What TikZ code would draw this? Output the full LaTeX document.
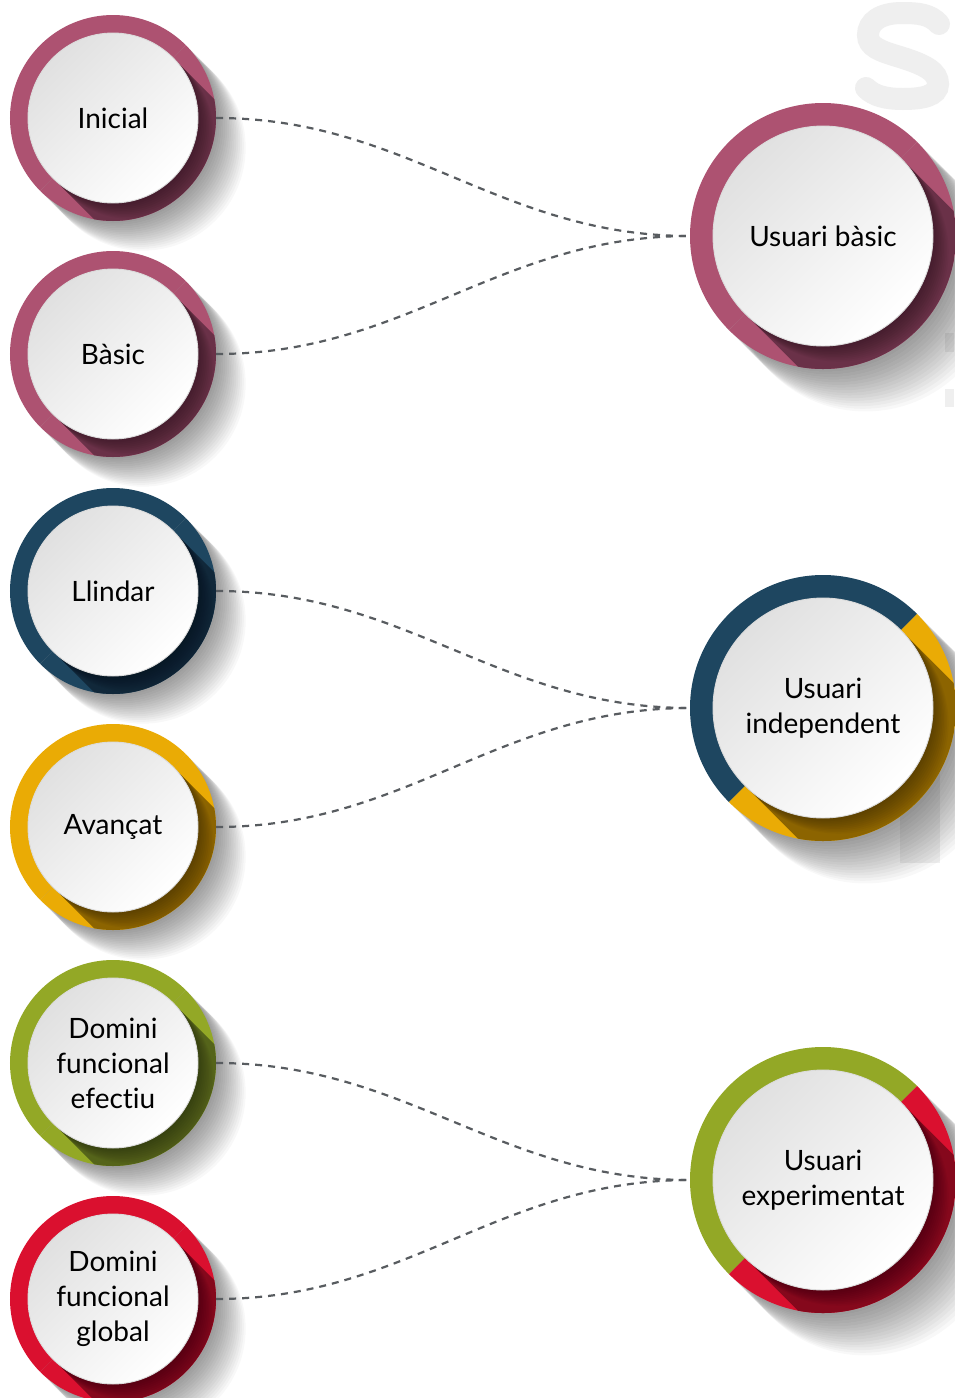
\documentclass[tikz,border=0pt]{standalone}
\usepackage{fontspec}
\setmainfont{Lato}[Ligatures={NoCommon,NoRare}]
\usetikzlibrary{calc}
\definecolor{maroon}{HTML}{AD5271}
\definecolor{maroondk}{HTML}{6A3148}
\definecolor{navy}{HTML}{1E4660}
\definecolor{navydk}{HTML}{11283A}
\definecolor{gold}{HTML}{EAAB05}
\definecolor{golddk}{HTML}{8C6400}
\definecolor{olive}{HTML}{93A826}
\definecolor{olivedk}{HTML}{55641A}
\definecolor{crimson}{HTML}{DA102F}
\definecolor{crimsondk}{HTML}{85081C}
\definecolor{connc}{HTML}{585C60}
\definecolor{bgletter}{HTML}{EFEFEF}
% soft long shadow of the outer circle: #1 x, #2 y, #3 R, #4 length
\newcommand{\bubbleshadow}[4]{%
  \foreach \k in {1,...,16}{%
    \pgfmathsetmacro\dd{\k*#4/16}%
    \fill[black,opacity=0.026] ($(#1,#2)+(-45:\dd pt)$) circle[radius=#3pt];
  }%
}
% #1 name, #2 x, #3 y, #4 R, #5 r, #6 colour A, #7 colour B, #8 dark, #9 text
\newcommand{\bubble}[9]{%
  \pgfmathsetmacro\dia{2*#5}%
  \fill[#6] (#2,#3) -- ++(45:#4pt) arc[start angle=45,end angle=225,radius=#4pt] -- cycle;
  \fill[#7] (#2,#3) -- ++(225:#4pt) arc[start angle=225,end angle=405,radius=#4pt] -- cycle;
  \begin{scope}
    \clip (#2,#3) circle[radius=#4pt];
    \fill[#8] ($(#2,#3)+(45:#5pt)$) -- ++(-45:300pt) -- ++(225:\dia pt) -- ++(135:300pt) -- cycle;
    \foreach \k in {1,...,10}{%
      \pgfmathsetmacro\dd{\k*2.2}%
      \fill[black,opacity=0.035] ($(#2,#3)+(-45:\dd pt)$) circle[radius=#5pt];
    }%
  \end{scope}
  \shade[top color=gray!24, bottom color=white, shading angle=45, draw=gray!28, line width=0.9pt] (#2,#3) circle[radius=#5pt];
  \node[bubbletext, minimum size=2*#4pt] (#1) at (#2,#3) {#9};
}
\begin{document}
\begin{tikzpicture}[x=1pt,y=1pt,
  bubbletext/.style={circle, inner sep=0pt, align=center, text=black,
    font=\fontsize{28}{35}\selectfont},
  conn/.style={draw=connc, line width=2.2pt, dash pattern=on 7pt off 6pt},
  bgbar/.style={fill=bgletter}]
\useasboundingbox (0,0) rectangle (954,-1398);
\fill[white] (0,0) rectangle (954,-1398);
% faint background letter shapes
\draw[bgletter, line width=22pt, line cap=round]
  (939,-24) .. controls (930,-14) and (918,-13) .. (902,-13)
  .. controls (880,-13) and (868,-22) .. (868,-35)
  .. controls (868,-47) and (880,-51) .. (900,-57)
  .. controls (926,-65) and (938,-72) .. (938,-84)
  .. controls (938,-96) and (922,-99) .. (903,-99)
  .. controls (886,-99) and (874,-96) .. (866,-88);
\fill[bgbar] (945,-333) rectangle (954,-352);
\fill[bgbar] (945,-389) rectangle (954,-407);
\fill[bgbar] (900,-760) rectangle (940,-863);
% shadows
\bubbleshadow{113}{-118}{103}{42}
\bubbleshadow{113}{-354}{103}{42}
\bubbleshadow{113}{-591}{103}{42}
\bubbleshadow{113}{-827}{103}{42}
\bubbleshadow{113}{-1063}{103}{42}
\bubbleshadow{113}{-1299}{103}{42}
\bubbleshadow{823}{-236}{133}{60}
\bubbleshadow{823}{-708}{133}{60}
\bubbleshadow{823}{-1180}{133}{60}
% left bubbles
\bubble{inicial}{113}{-118}{103}{85}{maroon}{maroon}{maroondk}{Inicial}
\bubble{basic}{113}{-354}{103}{85}{maroon}{maroon}{maroondk}{Bàsic}
\bubble{llindar}{113}{-591}{103}{85}{navy}{navy}{navydk}{Llindar}
\bubble{avancat}{113}{-827}{103}{85}{gold}{gold}{golddk}{Avançat}
\bubble{defectiu}{113}{-1063}{103}{85}{olive}{olive}{olivedk}{Domini\\funcional\\efectiu}
\bubble{dglobal}{113}{-1299}{103}{85}{crimson}{crimson}{crimsondk}{Domini\\funcional\\global}
% right bubbles
\bubble{ubasic}{823}{-236}{133}{110}{maroon}{maroon}{maroondk}{Usuari bàsic}
\bubble{uindep}{823}{-708}{133}{110}{navy}{gold}{golddk}{Usuari\\independent}
\bubble{uexp}{823}{-1180}{133}{110}{olive}{crimson}{crimsondk}{Usuari\\experimentat}
% connectors
\draw[conn] (inicial.east) to[out=0,in=180] (ubasic.west);
\draw[conn] (basic.east) to[out=0,in=180] (ubasic.west);
\draw[conn] (llindar.east) to[out=0,in=180] (uindep.west);
\draw[conn] (avancat.east) to[out=0,in=180] (uindep.west);
\draw[conn] (defectiu.east) to[out=0,in=180] (uexp.west);
\draw[conn] (dglobal.east) to[out=0,in=180] (uexp.west);
\end{tikzpicture}
\end{document}
